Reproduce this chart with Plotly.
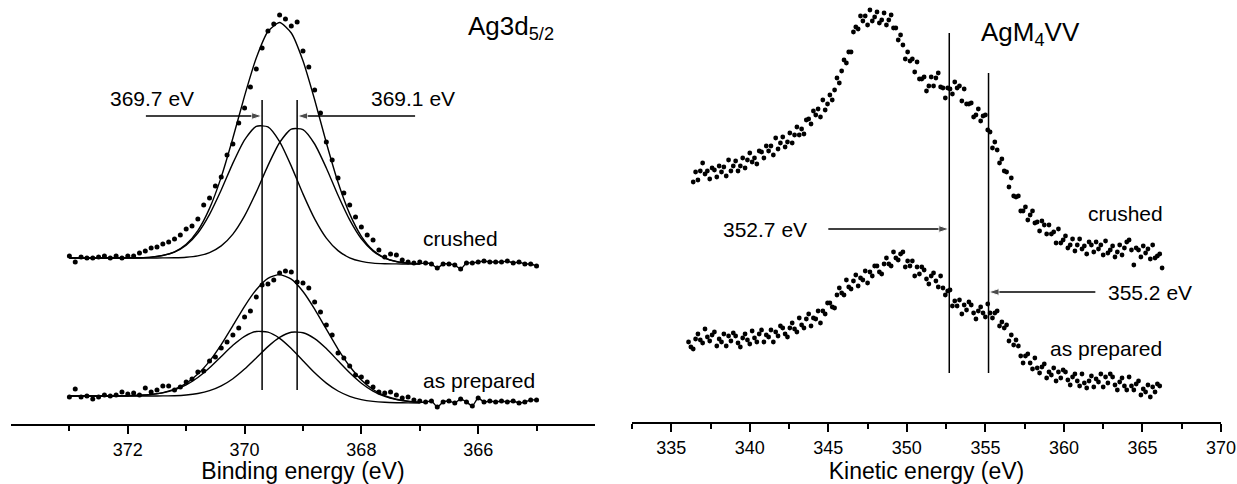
import numpy as np
import plotly.graph_objects as go

FONT = "Liberation Sans, Arial, sans-serif"

# ---------------- Ag3d5/2 (binding energy) ----------------
be_data = np.round(np.linspace(373.0, 365.0, 81), 1)
ag3d_crushed = [168, 162, 167, 166, 166, 167, 168, 166, 168, 166,
                168, 168, 171, 173, 176, 177, 180, 182, 185, 189,
                195, 198, 205, 219, 226, 238, 247, 269, 280, 301,
                316, 337, 355, 376, 393, 400, 409, 405, 398, 402,
                373, 357, 334, 311, 282, 264, 246, 231, 219, 207,
                197, 189, 184, 174, 167, 170, 169, 164, 162, 161,
                162, 161, 160, 156, 160, 160, 159, 155, 161, 161,
                162, 163, 162, 162, 162, 163, 161, 162, 160, 160, 158]
ag3d_prepared = [27, 35, 27, 28, 25, 27, 29, 28, 29, 32,
                 30, 31, 29, 36, 32, 34, 38, 38, 34, 37,
                 42, 45, 52, 53, 63, 67, 76, 82, 89, 96,
                 107, 113, 127, 139, 140, 144, 151, 153, 152, 142,
                 141, 136, 122, 112, 99, 89, 71, 66, 58, 49,
                 47, 42, 37, 32, 31, 32, 29, 26, 27, 24,
                 23, 22, 23, 17, 22, 23, 21, 25, 22, 18,
                 26, 22, 23, 22, 23, 22, 23, 21, 22, 24, 24]

be_fit = np.round(np.linspace(373.0, 367.0, 31), 1)
crushed_comp1 = [166.0] * 5 + [166.1, 166.3, 166.9, 168.5, 171.9, 178.8, 191.0, 209.7, 234.0, 260.9,
                               284.2, 297.7, 297.1, 282.4, 257.9, 230.1, 205.1, 185.9, 173.4, 166.2,
                               162.6, 160.9, 160.3, 160.1, 160.0, 160.0]
crushed_comp2 = [166.0] * 5 + [166.0, 166.0, 166.0, 166.1, 166.2, 166.7, 168.1, 171.4, 178.1, 189.9,
                               208.1, 231.9, 258.4, 281.5, 294.9, 294.4, 280.0, 256.0, 228.7, 204.1,
                               185.2, 172.9, 165.9, 162.4, 160.9, 160.3]
crushed_env = [166.0] * 5 + [166.1, 166.3, 166.9, 168.6, 172.2, 179.7, 193.4, 215.6, 246.9, 286.0,
                             328.1, 366.0, 392.5, 401.5, 391.0, 363.2, 324.2, 281.3, 241.7, 210.1,
                             187.7, 173.7, 166.2, 162.5, 160.9, 160.3]
prepared_comp1 = [28.0] * 5 + [28.3, 28.7, 29.5, 31.1, 34.1, 39.1, 46.5, 56.2, 67.5, 78.7,
                               87.7, 92.5, 91.8, 85.7, 75.5, 63.3, 51.2, 40.9, 33.0, 27.7,
                               24.4, 22.6, 21.7, 21.3, 21.1, 21.0]
prepared_comp2 = [28.0] * 5 + [28.0, 28.0, 28.0, 28.1, 28.3, 29.0, 30.5, 33.3, 38.1, 45.3,
                               54.9, 66.1, 77.4, 86.6, 91.7, 91.3, 85.4, 75.4, 63.2, 51.2,
                               40.8, 32.9, 27.6, 24.4, 22.6, 21.7]
prepared_env = [28.0] * 5 + [28.3, 28.7, 29.6, 31.4, 34.8, 40.7, 49.9, 62.9, 79.4, 98.4,
                             117.7, 134.3, 145.7, 149.4, 144.8, 132.5, 114.9, 94.8, 74.9, 57.7,
                             44.1, 34.5, 28.3, 24.7, 22.7, 21.7]

ag3d_peaks = [369.7, 369.1]
ag3d_line_span = [34, 324]
ag3d_arrow_y = 308
ag3d_arrow_tails = [371.69, 367.08]

# ---------------- AgM4VV (kinetic energy) ----------------
ke_crushed = np.round(np.linspace(336.4, 366.25, 200), 2)
auger_crushed = [240, 250, 242, 251, 259, 248, 251, 243, 254, 252,
                 245, 256, 250, 255, 246, 262, 251, 256, 261, 251,
                 256, 264, 254, 262, 269, 260, 264, 258, 271, 270,
                 264, 276, 271, 276, 267, 284, 273, 279, 285, 275,
                 280, 289, 279, 287, 295, 287, 293, 288, 302, 303,
                 298, 311, 307, 313, 305, 322, 312, 318, 327, 322,
                 332, 344, 339, 351, 362, 359, 370, 370, 390, 395,
                 393, 406, 401, 406, 397, 412, 401, 405, 410, 399,
                 402, 409, 397, 402, 407, 394, 394, 382, 387, 377,
                 363, 370, 361, 363, 350, 360, 343, 343, 345, 331,
                 336, 345, 336, 344, 349, 335, 334, 324, 334, 333,
                 328, 340, 334, 336, 321, 333, 318, 318, 319, 305,
                 307, 313, 301, 306, 307, 292, 290, 274, 280, 272,
                 259, 263, 251, 250, 235, 244, 226, 225, 226, 211,
                 211, 215, 202, 207, 211, 199, 200, 191, 201, 197,
                 188, 197, 188, 190, 179, 193, 179, 182, 186, 174,
                 177, 183, 171, 177, 183, 173, 176, 168, 180, 177,
                 170, 180, 173, 177, 167, 181, 169, 172, 176, 165,
                 170, 177, 167, 174, 180, 182, 172, 157, 174, 172,
                 165, 176, 169, 173, 163, 177, 164, 166, 168, 154]

ke_prepared = np.round(np.linspace(336.1, 366.1, 201), 2)
auger_prepared = [80, 75, 73, 83, 88, 82, 79, 93, 85, 81,
                  87, 90, 76, 83, 80, 88, 76, 86, 81, 89,
                  86, 79, 75, 84, 88, 82, 78, 91, 84, 80,
                  88, 92, 80, 87, 85, 92, 80, 90, 86, 96,
                  94, 88, 85, 94, 99, 93, 90, 104, 97, 94,
                  103, 108, 96, 104, 103, 111, 99, 111, 108, 119,
                  119, 115, 114, 127, 134, 129, 127, 142, 135, 133,
                  141, 147, 136, 144, 142, 151, 139, 150, 146, 156,
                  156, 150, 148, 158, 164, 158, 156, 170, 164, 162,
                  168, 170, 155, 161, 156, 161, 146, 155, 148, 155,
                  152, 143, 138, 146, 149, 141, 135, 146, 134, 127,
                  131, 132, 116, 121, 116, 122, 108, 117, 112, 120,
                  117, 109, 103, 111, 115, 109, 105, 118, 109, 104,
                  109, 111, 96, 100, 94, 97, 81, 87, 77, 82,
                  76, 66, 59, 66, 68, 59, 53, 64, 54, 49,
                  55, 58, 44, 50, 47, 54, 41, 50, 44, 52,
                  50, 42, 37, 45, 48, 41, 36, 48, 39, 34,
                  41, 46, 35, 43, 40, 48, 35, 45, 39, 48,
                  45, 37, 32, 40, 44, 36, 32, 45, 36, 32,
                  38, 41, 27, 33, 30, 37, 25, 35, 30, 38, 36]

auger_lines = [352.7, 355.2]
auger_line_bottom = 49
auger_line_tops = [389, 349]
auger_arrow_y = [193, 130]
auger_arrow_tails = [345.0, 362.0]

# ---------------- figure ----------------
fig = go.Figure()
dot = dict(color="black", size=5)
fitline = dict(color="black", width=1.4)

env_tail = be_data < 367.0
for env, data in ((crushed_env, ag3d_crushed), (prepared_env, ag3d_prepared)):
    fig.add_trace(go.Scatter(
        x=list(be_fit) + list(be_data[env_tail]),
        y=env + [v for v, keep in zip(data, env_tail) if keep],
        mode="lines", line=dict(fitline, shape="spline", smoothing=0.6),
        xaxis="x", yaxis="y", hoverinfo="skip"))
for comp in (crushed_comp1, crushed_comp2, prepared_comp1, prepared_comp2):
    fig.add_trace(go.Scatter(x=be_fit, y=comp, mode="lines",
                             line=dict(fitline, shape="spline", smoothing=0.6),
                             xaxis="x", yaxis="y", hoverinfo="skip"))
for data in (ag3d_crushed, ag3d_prepared):
    fig.add_trace(go.Scatter(x=be_data, y=data, mode="markers", marker=dot,
                             xaxis="x", yaxis="y", cliponaxis=False))

for ke, data in ((ke_crushed, auger_crushed), (ke_prepared, auger_prepared)):
    fig.add_trace(go.Scatter(x=ke, y=data, mode="markers",
                             marker=dict(color="black", size=4.8),
                             xaxis="x2", yaxis="y2", cliponaxis=False))

# vertical marker lines
for e in ag3d_peaks:
    fig.add_shape(type="line", xref="x", yref="y", x0=e, x1=e,
                  y0=ag3d_line_span[0], y1=ag3d_line_span[1],
                  line=dict(color="black", width=1.5))
for e, top in zip(auger_lines, auger_line_tops):
    fig.add_shape(type="line", xref="x2", yref="y2", x0=e, x1=e,
                  y0=auger_line_bottom, y1=top,
                  line=dict(color="black", width=1.5))


def arrow(xa, ya, tail, head, y):
    # line with an arrowhead marker at the head end
    fig.add_trace(go.Scatter(x=[tail, head], y=[y, y], mode="lines+markers",
                             line=dict(color="black", width=1.4),
                             marker=dict(symbol="arrow", angleref="previous",
                                         size=[0, 11], color="black"),
                             xaxis=xa, yaxis=ya, hoverinfo="skip"))


def label(xref, yref, x, y, text, size=21, xanchor="center"):
    fig.add_annotation(x=x, y=y, xref=xref, yref=yref, text=text,
                       showarrow=False, xanchor=xanchor, yanchor="middle",
                       font=dict(family=FONT, size=size, color="black"))


for tail, head in zip(ag3d_arrow_tails, ag3d_peaks):
    arrow("x", "y", tail, head, ag3d_arrow_y)
for tail, head, y in zip(auger_arrow_tails, auger_lines, auger_arrow_y):
    arrow("x2", "y2", tail, head, y)

label("x", "y", 371.59, 326, "369.7 eV")
label("x", "y", 367.11, 326, "369.1 eV")
label("x", "y", 365.62, 186, "crushed", xanchor="right")
label("x", "y", 365.0, 44, "as prepared", xanchor="right")
label("x", "y", 366.2, 397, "Ag3d<sub>5/2</sub>", size=26, xanchor="left")

label("x2", "y2", 341.0, 193, "352.7 eV")
label("x2", "y2", 365.5, 130, "355.2 eV")
label("x2", "y2", 366.46, 209, "crushed", xanchor="right")
label("x2", "y2", 366.34, 74, "as prepared", xanchor="right")
label("x2", "y2", 354.62, 389, "AgM<sub>4</sub>VV", size=26, xanchor="left")

axis_common = dict(showline=True, linecolor="black", linewidth=1.8,
                   ticks="outside", ticklen=8, tickwidth=1.5, tickcolor="black",
                   showgrid=False, zeroline=False, ticklabelstandoff=0,
                   automargin=False, ticklabeloverflow="allow",
                   tickfont=dict(family=FONT, size=18, color="black"),
                   title_font=dict(family=FONT, size=23, color="black"),
                   title_standoff=10)

fig.update_layout(
    width=1237, height=484,
    margin=dict(l=11, r=16, t=0, b=60, autoexpand=False),
    paper_bgcolor="white", plot_bgcolor="white",
    showlegend=False,
    xaxis=dict(axis_common, domain=[0, 0.4826], range=[374, 364], anchor="y",
               tickmode="array", tickvals=[372, 370, 368, 366],
               minor=dict(tickmode="array", tickvals=[373, 371, 369, 367, 365],
                          ticks="outside", ticklen=5, tickwidth=1.5, tickcolor="black"),
               title_text="Binding energy (eV)"),
    yaxis=dict(domain=[0, 1], range=[0, 424], visible=False, anchor="x"),
    xaxis2=dict(axis_common, domain=[0.5132, 1], range=[332.5, 370], anchor="y2",
                tickmode="array", tickvals=[335, 340, 345, 350, 355, 360, 365, 370],
                minor=dict(tickmode="array",
                           tickvals=[332.5, 337.5, 342.5, 347.5, 352.5, 357.5, 362.5, 367.5],
                           ticks="outside", ticklen=5, tickwidth=1.5, tickcolor="black"),
                title_text="Kinetic energy (eV)"),
    yaxis2=dict(domain=[0.0047, 1], range=[0, 422], visible=False, anchor="x2"),
)

# drop the page's default body margin so the figure sits at the window origin
fig.write_html("out.html", config={"displayModeBar": False},
               post_script="document.body.style.margin = '0px';")
